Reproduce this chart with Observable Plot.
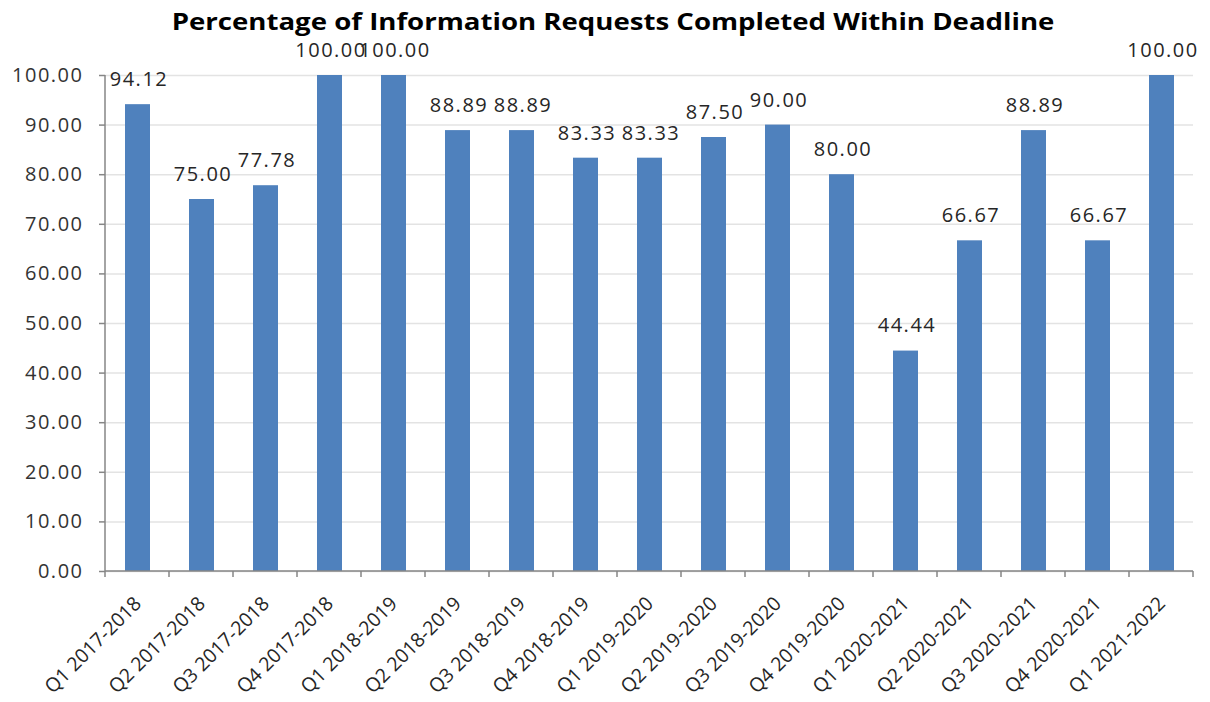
<!DOCTYPE html>
<html><head><meta charset="utf-8">
<script src="https://cdn.jsdelivr.net/npm/d3@7"></script>
<script src="https://cdn.jsdelivr.net/npm/@observablehq/plot@0.6"></script>
<style>
body{margin:0;background:#fff;}
#wrap{position:relative;width:1210px;height:702px;}
#title{position:absolute;left:613px;top:0;transform:translateX(-50%) scaleX(1.2);font-family:"Open Sans",sans-serif;font-weight:bold;font-size:23px;line-height:42px;color:#000;white-space:nowrap;z-index:2;}
#chart svg{display:block;}
</style></head><body>
<div id="wrap">
<div id="title">Percentage of Information Requests Completed Within Deadline</div>
<div id="chart"></div>
</div>
<script>
const categories = ["Q1 2017-2018","Q2 2017-2018","Q3 2017-2018","Q4 2017-2018","Q1 2018-2019","Q2 2018-2019","Q3 2018-2019","Q4 2018-2019","Q1 2019-2020","Q2 2019-2020","Q3 2019-2020","Q4 2019-2020","Q1 2020-2021","Q2 2020-2021","Q3 2020-2021","Q4 2020-2021","Q1 2021-2022"];
const values = [94.12,75.00,77.78,100.00,100.00,88.89,88.89,83.33,83.33,87.50,90.00,80.00,44.44,66.67,88.89,66.67,100.00];
const yTicks = [0,10,20,30,40,50,60,70,80,90,100];

const data = categories.map((c, i) => ({quarter: c, pct: values[i]}));
const font = "Open Sans";
const axisColor = "#868686";

function axisLines(index, scales, channels, dims) {
  const g = d3.create("svg:g").attr("stroke", axisColor).attr("stroke-width", 1.5).attr("fill", "none");
  const left = dims.marginLeft, right = dims.width - dims.marginRight;
  const y0 = scales.y(0), y1 = scales.y(100);
  g.append("line").attr("x1", left).attr("x2", left).attr("y1", y0).attr("y2", y1);
  g.append("line").attr("x1", left).attr("x2", right).attr("y1", y0).attr("y2", y0);
  const step = scales.x(categories[1]) - scales.x(categories[0]);
  for (let i = 0; i <= categories.length; i++) {
    const bx = left + i * step;
    g.append("line").attr("x1", bx).attr("x2", bx).attr("y1", y0).attr("y2", y0 + 6);
  }
  return g.node();
}

const plot = Plot.plot({
  width: 1210, height: 702,
  marginTop: 75, marginBottom: 131, marginLeft: 105, marginRight: 17,
  style: {fontFamily: font, fontSize: "20px", background: "transparent", color: "#333", letterSpacing: "1.5px"},
  x: {domain: categories, paddingInner: 0.61, paddingOuter: 0.305, axis: null},
  y: {domain: [0, 100], axis: null},
  marks: [
    Plot.gridY(yTicks, {stroke: "#e3e3e3", strokeOpacity: 1, strokeWidth: 1.5}),
    Plot.barY(data, {x: "quarter", y: "pct", fill: "#4f81bd"}),
    axisLines,
    Plot.axisY(yTicks, {label: null, tickSize: 6, tickPadding: 16, stroke: axisColor, strokeWidth: 1.5, fill: "#333", tickFormat: d => d.toFixed(2), fontSize: 20}),
    Plot.text(data, {x: "quarter", y: "pct", text: d => d.pct.toFixed(2), dy: -25, dx: 1, fill: "#262626", fontSize: 20}),
    Plot.text(data, {x: "quarter", y: 0, text: "quarter", rotate: -45, textAnchor: "end", dx: 0, dy: 29, fill: "#262626", fontSize: 19.5})
  ]
});
d3.select(plot).selectAll("text").filter(function() {
  return (this.getAttribute("transform") || "").includes("rotate");
}).style("letter-spacing", "0px");
document.getElementById("chart").appendChild(plot);
</script>
</body></html>
